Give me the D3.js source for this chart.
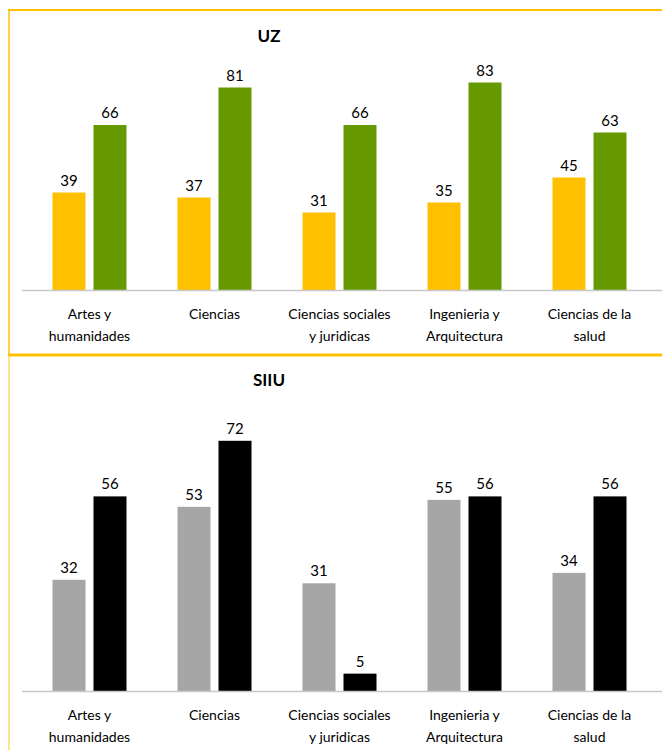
<!DOCTYPE html>
<html>
<head>
<meta charset="utf-8">
<script src="https://cdn.jsdelivr.net/npm/d3@7"></script>
<style>
  body { margin: 0; background: #fff; }
  text { font-family: Lato, "Open Sans", sans-serif; fill: #000; }
</style>
</head>
<body>
<svg id="chart" width="662" height="750"></svg>
<script>
var categories = ["Artes y\nhumanidades", "Ciencias", "Ciencias sociales\ny juridicas", "Ingenieria y\nArquitectura", "Ciencias de la\nsalud"];
var uz_a = [39, 37, 31, 35, 45];
var uz_b = [66, 81, 66, 83, 63];
var siiu_a = [32, 53, 31, 55, 34];
var siiu_b = [56, 72, 5, 56, 56];

var svg = d3.select("#chart");

// frames
svg.append("line").attr("x1", 8).attr("x2", 662).attr("y1", 10).attr("y2", 10)
   .style("stroke", "#FFC000").style("stroke-width", 2);
svg.append("line").attr("x1", 9).attr("x2", 9).attr("y1", 10).attr("y2", 356)
   .style("stroke", "#FFC000").style("stroke-width", 1.5);
svg.append("line").attr("x1", 8).attr("x2", 662).attr("y1", 355).attr("y2", 355)
   .style("stroke", "#FFC000").style("stroke-width", 3);
svg.append("line").attr("x1", 9).attr("x2", 9).attr("y1", 356).attr("y2", 750)
   .style("stroke", "#FFD966").style("stroke-width", 1.5);

function drawChart(title, titleY, a, b, colA, colB, base, top, ymax) {
  var x = d3.scaleBand().domain(d3.range(categories.length)).range([27, 652]);
  var y = d3.scaleLinear().domain([0, ymax]).range([base, top]);
  var g = svg.append("g");

  g.append("text")
    .attr("x", 269).attr("y", titleY)
    .attr("text-anchor", "middle")
    .style("font-size", "17px").style("font-weight", "bold")
    .text(title);

  var barW = 33, gap = 8;
  var series = [{vals: a, col: colA, off: -gap / 2 - barW}, {vals: b, col: colB, off: gap / 2}];

  series.forEach(function(s) {
    var grp = g.selectAll(null).data(s.vals).enter().append("g");
    grp.append("rect")
      .attr("x", function(d, i) { return x(i) + x.bandwidth() / 2 + s.off; })
      .attr("y", function(d) { return y(d); })
      .attr("width", barW)
      .attr("height", function(d) { return base - y(d); })
      .style("fill", s.col);
    grp.append("text")
      .attr("x", function(d, i) { return x(i) + x.bandwidth() / 2 + s.off + barW / 2; })
      .attr("y", function(d) { return y(d) - 7; })
      .attr("text-anchor", "middle")
      .style("font-size", "15px")
      .text(function(d) { return d; });
  });

  g.append("line").attr("x1", 22).attr("x2", 662).attr("y1", base + 0.5).attr("y2", base + 0.5)
    .style("stroke", "#C8C8C8").style("stroke-width", 1.5);

  var lab = g.selectAll(null).data(categories).enter().append("text")
    .attr("text-anchor", "middle")
    .style("font-size", "14px");
  lab.each(function(d, i) {
    var t = d3.select(this);
    d.split("\n").forEach(function(line, k) {
      t.append("tspan")
        .attr("x", x(i) + x.bandwidth() / 2)
        .attr("y", base + 29 + k * 22)
        .text(line);
    });
  });
}

drawChart("UZ", 42, uz_a, uz_b, "#FFC000", "#669900", 290, 40, 100);
drawChart("SIIU", 386, siiu_a, siiu_b, "#A6A6A6", "#000000", 691, 413, 80);
</script>
</body>
</html>
